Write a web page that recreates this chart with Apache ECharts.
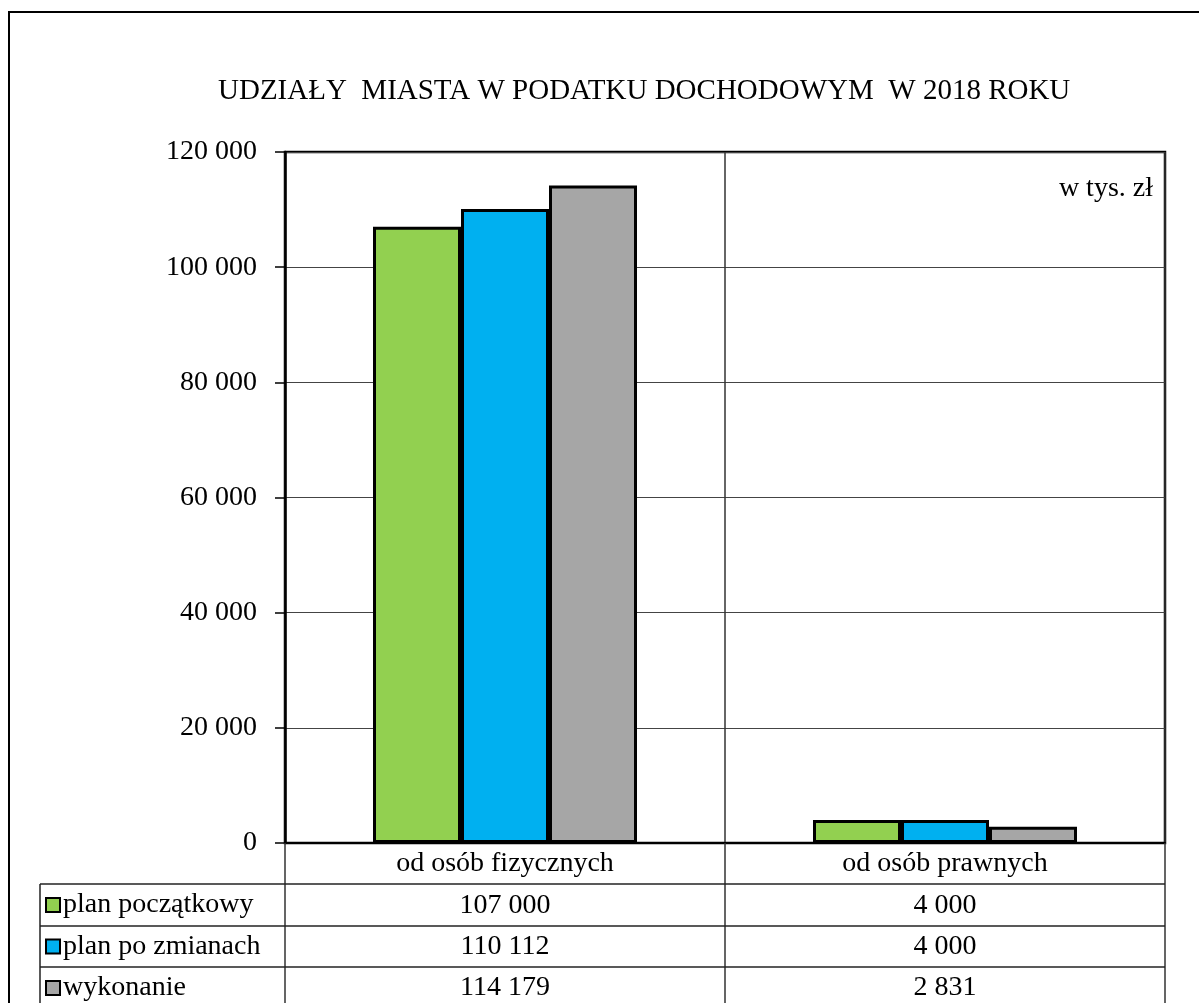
<!DOCTYPE html>
<html>
<head>
<meta charset="utf-8">
<script src="https://cdn.jsdelivr.net/npm/echarts@6/dist/echarts.min.js"></script>
<style>
    html, body { margin:0; padding:0; background:#fff; }
    #main { width:1199px; height:1003px; }
</style>
</head>
<body>
<div id="main"></div>
<script>
    var categories = ['od osób fizycznych', 'od osób prawnych'];
    var seriesNames = ['plan początkowy', 'plan po zmianach', 'wykonanie'];
    var planPoczatkowy = [107000, 4000];
    var planPoZmianach = [110112, 4000];
    var wykonanie = [114179, 2831];
    var colors = ['#92D050', '#00B0F0', '#A6A6A6'];

    var FONT = 'Liberation Serif';
    var seriesData = [planPoczatkowy, planPoZmianach, wykonanie];

    // liczby ze spacją jako separatorem tysięcy
    function fmt(v){
        return String(v).replace(/\B(?=(\d{3})+(?!\d))/g, ' ');
    }

    // osie X pełniące rolę wierszy tabeli danych
    var xAxes = [{
        type:'category',
        data:categories,
        axisLine:{ show:true, lineStyle:{ color:'#000', width:2 } },
        axisTick:{ show:true, length:160, lineStyle:{ color:'#333', width:1.5 } },
        splitLine:{ show:true, lineStyle:{ color:'#333', width:1.5 } },
        axisLabel:{ margin:7, fontFamily:FONT, fontSize:28, color:'#000' }
    }];
    var offsets = [41.5, 83, 124];
    for(var i = 0; i < seriesData.length; i++){
        (function(arr, off){
            xAxes.push({
                type:'category',
                data:categories,
                position:'bottom',
                offset:off,
                axisLine:{ show:false },
                axisTick:{ show:false },
                splitLine:{ show:false },
                axisLabel:{
                    margin:7, fontFamily:FONT, fontSize:28, color:'#000',
                    formatter:function(val, idx){ return fmt(arr[idx]); }
                }
            });
        })(seriesData[i], offsets[i]);
    }

    var series = [];
    for(var j = 0; j < seriesNames.length; j++){
        series.push({
            name:seriesNames[j],
            type:'bar',
            xAxisIndex:0,
            data:seriesData[j],
            barWidth:88,
            barGap:'0%',
            itemStyle:{ color:colors[j], borderColor:'#000', borderWidth:3 }
        });
    }

    function hline(y, x1, x2){
        return { type:'line', shape:{ x1:x1, y1:y, x2:x2, y2:y }, style:{ stroke:'#222', lineWidth:1.5 }, z:10 };
    }

    var option = {
        animation:false,
        backgroundColor:'#fff',
        title:[{
            text:'UDZIAŁY  MIASTA W PODATKU DOCHODOWYM  W 2018 ROKU',
            left:213, top:72,
            textStyle:{ fontFamily:FONT, fontSize:29, fontWeight:'normal', color:'#000' }
        },{
            text:'w tys. zł',
            right:41, top:170,
            textStyle:{ fontFamily:FONT, fontSize:28, fontWeight:'normal', color:'#000' }
        }],
        legend:{
            orient:'vertical',
            left:45, top:891,
            padding:0,
            itemWidth:14, itemHeight:14,
            itemGap:13.5,
            icon:'rect',
            height:200,
            itemStyle:{ borderColor:'#000', borderWidth:2 },
            textStyle:{ fontFamily:FONT, fontSize:28, color:'#000', lineHeight:28, padding:[0,0,0,-2] },
            data:seriesNames
        },
        grid:{
            left:285, right:34, top:152, bottom:160,
            show:true, borderColor:'#000', borderWidth:2.5,
            containLabel:false
        },
        xAxis:xAxes,
        yAxis:{
            type:'value',
            min:0, max:120000, interval:20000,
            axisLine:{ show:true, lineStyle:{ color:'#000', width:2.5 } },
            axisTick:{ show:true, length:10, lineStyle:{ color:'#000', width:1.5 } },
            splitLine:{ show:true, lineStyle:{ color:'#444', width:1 } },
            axisLabel:{ margin:28, fontFamily:FONT, fontSize:28, color:'#000', formatter:function(v){ return fmt(v); } }
        },
        graphic:[
            { type:'rect', shape:{ x:9, y:12, width:1400, height:1200 }, style:{ fill:null, stroke:'#000', lineWidth:2 }, z:10 },
            hline(884, 40, 1165),
            hline(926, 40, 1165),
            hline(967, 40, 1165),
            { type:'line', shape:{ x1:40, y1:884, x2:40, y2:1010 }, style:{ stroke:'#222', lineWidth:1.5 }, z:10 }
        ],
        series:series
    };

    var myChart = echarts.init(document.getElementById('main'));
    myChart.setOption(option);
</script>
</body>
</html>
